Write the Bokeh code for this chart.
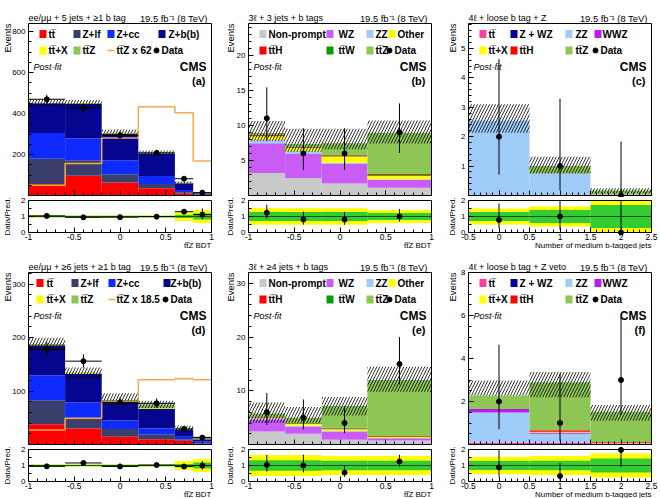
import numpy as np
from bokeh.plotting import figure
from bokeh.layouts import row, column
from bokeh.models import Label, FixedTicker, Range1d, CustomJSTickFormatter
from bokeh.embed import file_html
from bokeh.resources import INLINE

FONT = "Liberation Sans"
TT = "tt\u0305"          # t tbar
LEP = "\u2113"           # lepton symbol

# ---------------- colours ----------------
C_TT = "#ff0000"
C_ZLF = "#3b3f6b"
C_ZCC = "#0d2bff"
C_ZBB = "#05058f"
C_TTX = "#ffff00"
C_TTZ = "#8dc655"
C_ORANGE = "#f7a94f"
C_NP = "#c8c8c8"
C_WZ = "#c95cf7"
C_ZZ = "#9fcbf8"
C_OTHER = "#ffff00"
C_TTH = "#ff0000"
C_TTW = "#089a08"
C_TTPINK = "#ff3ea5"
C_ZWZ = "#000099"
C_WWZ = "#b81cf0"
C_BAND1 = "#33cc33"
C_BAND2 = "#ffff00"

# ---------------- (a) ee/mumu + 5 jets + >=1 b tag ----------------
a_edges = [-1.0, -0.6, -0.2, 0.2, 0.6, 0.8, 1.0]
a_ttbar = [56, 96, 64, 35, 11, 2]
a_zlf = [123, 76, 40, 21, 5, 1.5]
a_zcc = [126, 106, 68, 39, 11, 2.5]
a_zbb = [146, 170, 130, 110, 33, 5.5]
a_ttx = [0.8, 1.2, 1.5, 1.5, 0.8, 0.3]
a_ttz = [0.8, 2.5, 3.0, 3.5, 2.2, 0.7]
a_ttz_x62 = [50, 156, 281, 434, 404, 169]
a_band_lo = [437, 437, 290, 200, 58, 10.5]
a_band_hi = [469, 467, 322, 220, 68, 14.5]
a_data = [470, 428, 294, 208, 82, 14]
a_data_lo = [449, 407, 277, 194, 73, 10.3]
a_data_hi = [492, 449, 312, 223, 92, 18.8]
a_ratio_1s = [0.04, 0.04, 0.04, 0.04, 0.10, 0.18]
a_ratio_2s = [0.06, 0.06, 0.06, 0.06, 0.28, 0.40]

# ---------------- (b) 3l + 3 jets + b tags ----------------
b_edges = [-1.0, -0.6, -0.2, 0.3, 1.0]
b_nonprompt = [3.2, 2.5, 1.7, 1.1]
b_wz = [4.25, 3.4, 2.8, 1.15]
b_zz = [0.45, 0.4, 0.15, 0.05]
b_other = [0.55, 0.45, 0.9, 0.5]
b_tth = [0.12, 0.1, 0.15, 0.12]
b_ttw = [0.12, 0.1, 0.15, 0.13]
b_ttz = [0.2, 0.4, 1.6, 5.9]
b_band_lo = [7.8, 6.2, 6.6, 7.4]
b_band_hi = [10.6, 9.5, 9.5, 10.7]
b_data = [11, 6, 6, 9]
b_data_lo = [7.73, 3.62, 3.62, 6.06]
b_data_hi = [15.42, 9.58, 9.58, 13.11]
b_ratio_1s = [0.28, 0.28, 0.28, 0.22]
b_ratio_2s = [0.52, 0.52, 0.52, 0.40]

# ---------------- (c) 4l + loose b tag + Z ----------------
c_edges = [-0.5, 0.5, 1.5, 2.5]
c_ttbar = [0.0, 0.0, 0.0]
c_zwz = [0.0, 0.0, 0.0]
c_zz = [2.55, 0.75, 0.03]
c_wwz = [0.0, 0.0, 0.0]
c_ttx = [0.0, 0.0, 0.005]
c_tth = [0.0, 0.0, 0.005]
c_ttz = [0.0, 0.25, 0.13]
c_band_lo = [2.13, 0.75, 0.08]
c_band_hi = [3.1, 1.32, 0.25]
c_data = [2, 1, 0]
c_data_lo = [0.71, 0.17, 0.0]
c_data_hi = [4.64, 3.30, 1.84]
c_ratio_1s = [0.28, 0.40, 0.72]
c_ratio_2s = [0.50, 0.63, 1.10]

# ---------------- (d) ee/mumu + >=6 jets + >=1 b tag ----------------
d_edges = [-1.0, -0.6, -0.2, 0.2, 0.6, 0.8, 1.0]
d_ttbar = [37.7, 30, 14.5, 10, 7, 2]
d_zlf = [45.3, 19, 14.5, 9, 3, 1]
d_zcc = [46, 29.5, 16, 11, 4.5, 3]
d_zbb = [57, 53.5, 35, 37, 12.5, 4]
d_ttx = [0.5, 0.8, 1.0, 1.5, 0.7, 0.5]
d_ttz = [1.5, 2.0, 3.0, 6.5, 3.3, 2.5]
d_ttz_x18 = [27, 49, 80, 121, 123, 121]
d_band_lo = [176, 124, 74, 68, 27, 11]
d_band_hi = [200, 144, 96, 82, 35, 15]
d_data = [178, 156, 79, 77, 29, 13]
d_data_lo = [165, 144, 70.6, 68.6, 23.8, 9.5]
d_data_hi = [191.8, 169, 88.4, 86.4, 34.4, 16.6]
d_ratio_1s = [0.04, 0.04, 0.04, 0.04, 0.10, 0.18]
d_ratio_2s = [0.07, 0.07, 0.07, 0.07, 0.28, 0.40]

# ---------------- (e) 3l + >=4 jets + b tags ----------------
e_edges = [-1.0, -0.6, -0.2, 0.3, 1.0]
e_nonprompt = [2.43, 2.0, 0.87, 0.75]
e_wz = [2.24, 1.36, 1.56, 0.43]
e_zz = [0.2, 0.14, 0.07, 0.02]
e_other = [0.15, 0.3, 0.36, 0.2]
e_tth = [0.1, 0.1, 0.12, 0.14]
e_ttw = [0.1, 0.15, 0.12, 0.14]
e_ttz = [0.55, 0.95, 4.06, 10.3]
e_band_lo = [4.0, 4.0, 5.4, 9.8]
e_band_hi = [7.8, 7.0, 8.84, 14.45]
e_data = [6, 5, 4, 15]
e_data_lo = [3.62, 2.84, 2.09, 11.17]
e_data_hi = [9.58, 8.38, 7.16, 19.99]
e_ratio_1s = [0.33, 0.33, 0.30, 0.30]
e_ratio_2s = [0.66, 0.66, 0.60, 0.60]

# ---------------- (f) 4l + loose b tag + Z veto ----------------
f_edges = [-0.5, 0.5, 1.5, 2.5]
f_ttbar = [0.08, 0.08, 0.04]
f_zwz = [0.0, 0.0, 0.0]
f_zz = [1.41, 0.42, 0.01]
f_wwz = [0.16, 0.06, 0.01]
f_ttx = [0.0, 0.03, 0.02]
f_tth = [0.0, 0.07, 0.04]
f_ttz = [0.63, 2.24, 1.40]
f_band_lo = [2.28, 2.2, 1.1]
f_band_hi = [2.98, 3.37, 1.84]
f_data = [2, 1, 3]
f_data_lo = [0.71, 0.17, 1.37]
f_data_hi = [4.64, 3.30, 5.92]
f_ratio_1s = [0.28, 0.30, 0.44]
f_ratio_2s = [0.55, 0.60, 0.75]

# ---------------- geometry (pixels) ----------------
# Each figure's frame fills its whole canvas; the axes sit at fixed
# locations so the margins (titles, tick labels) are part of the frame.
W, ML, MR = 220, 28, 9
FW = W - ML - MR
MH, MT, MB = 197, 23, 2
FH = MH - MT - MB
RH, RT, RB = 52, 3, 17
RFH = RH - RT - RB

FMT = CustomJSTickFormatter(code="return String(tick)")
NO_LABELS = CustomJSTickFormatter(code="return ''")


def px2data(xr, yr, w, h, px, py):
    """Canvas pixel (from top-left) -> data coordinates."""
    return (xr[0] + px / w * (xr[1] - xr[0]),
            yr[1] - py / h * (yr[1] - yr[0]))


def put_text(fig, xr, yr, h, px, py, s, size, style="normal", align="left", angle=0.0):
    x, y = px2data(xr, yr, W, h, px, py)
    fig.add_layout(Label(x=x, y=y, text=s, text_font=FONT, text_font_size=f"{size}px",
                         text_font_style=style, text_align=align, text_baseline="middle",
                         angle=angle, text_color="black"))


def make_fig(xr, yr, h):
    f = figure(width=W, height=h, x_range=Range1d(*xr), y_range=Range1d(*yr),
               output_backend="svg", toolbar_location=None, title=None,
               min_border_left=0, min_border_right=0, min_border_top=0, min_border_bottom=0)
    f.outline_line_color = None
    f.xgrid.visible = False
    f.ygrid.visible = False
    return f


def style_axes(fig, x0, xticks, xminor, yticks, yminor, xlabels):
    fig.xaxis[0].fixed_location = 0
    fig.yaxis[0].fixed_location = x0
    for ax, ticks, minor in ((fig.xaxis[0], xticks, xminor), (fig.yaxis[0], yticks, yminor)):
        ax.ticker = FixedTicker(ticks=list(ticks), minor_ticks=list(minor))
        ax.formatter = FMT
        ax.major_tick_in = 5
        ax.major_tick_out = 0
        ax.minor_tick_in = 3
        ax.minor_tick_out = 0
        ax.axis_line_color = None
        ax.major_tick_line_color = "black"
        ax.minor_tick_line_color = "black"
        ax.major_label_text_font = FONT
        ax.major_label_text_color = "black"
    fig.yaxis[0].major_label_text_font_size = "8px"
    fig.yaxis[0].major_label_standoff = 3
    fig.xaxis[0].major_label_text_font_size = "8.5px"
    fig.xaxis[0].major_label_standoff = 1
    if not xlabels:
        fig.xaxis[0].formatter = NO_LABELS


def build_panel(header, tag, edges, stack, band_lo, band_hi, data, d_lo, d_hi,
                r1, r2, ymax, yticks, ystep, xticks, xlabel, legend, leg_box, leg_txt,
                leg_dot, xerr, title_dx, scaled=None):
    edges = np.asarray(edges, float)
    left, right = edges[:-1], edges[1:]
    cen = 0.5 * (left + right)
    x0, x1 = float(edges[0]), float(edges[-1])
    sx = (x1 - x0) / FW
    xr = (x0 - ML * sx, x1 + MR * sx)
    sy = ymax / FH
    yr = (-MB * sy, ymax + MT * sy)
    xminor = np.round(np.arange(x0, x1 + 1e-9, 0.1), 3)
    yminor = np.round(np.arange(0, ymax + 1e-9, ystep), 4)

    # ---------------- main distribution ----------------
    p = make_fig(xr, yr, MH)
    style_axes(p, x0, xticks, xminor, yticks, yminor, False)

    bottom = np.zeros(len(left))
    for vals, color in stack:
        top = bottom + np.asarray(vals, float)
        p.quad(left=left, right=right, bottom=bottom, top=top, fill_color=color, line_color=None)
        bottom = top
    total = bottom

    p.quad(left=left, right=right, bottom=band_lo, top=band_hi, fill_alpha=0, line_alpha=0,
           hatch_pattern="/", hatch_color="black", hatch_weight=0.8, hatch_scale=6)

    if scaled is not None:
        p.step(x=edges, y=list(scaled) + [scaled[-1]], mode="after", line_color=C_ORANGE, line_width=1.5)

    data = np.asarray(data, float)
    p.segment(x0=cen, y0=d_lo, x1=cen, y1=np.minimum(d_hi, ymax), line_color="black", line_width=1)
    if xerr:
        p.segment(x0=left, y0=data, x1=right, y1=data, line_color="black", line_width=1)
    p.scatter(cen, data, size=5, color="black")

    # frame box
    p.quad(left=[x0], right=[x1], bottom=[0], top=[ymax], fill_alpha=0, line_color="black", line_width=1)

    # texts
    put_text(p, xr, yr, MH, ML, MT - 5.5, header, 9)
    put_text(p, xr, yr, MH, ML + FW - 4, MT - 5.5, "19.5 fb\u207b\u00b9 (8 TeV)", 9.4, align="right")
    put_text(p, xr, yr, MH, ML + title_dx, MT, "Events", 9.5, align="right", angle=np.pi / 2)
    put_text(p, xr, yr, MH, ML + 5, MT + 43, "Post-fit", 9, style="italic")
    put_text(p, xr, yr, MH, ML + FW - 5, MT + 43, "CMS", 12, style="bold", align="right")
    put_text(p, xr, yr, MH, ML + FW - 6, MT + 57, tag, 11, style="bold", align="right")

    # legend
    rows_py = (MT + 10.5, MT + 27)
    for ri, entries in enumerate(legend):
        py = rows_py[ri]
        for c, (kind, lab, color) in enumerate(entries):
            if kind == "box":
                bx0, by0 = px2data(xr, yr, W, MH, ML + leg_box[c], py + 4)
                bx1, by1 = px2data(xr, yr, W, MH, ML + leg_box[c] + 7, py - 4)
                p.quad(left=[bx0], right=[bx1], bottom=[by0], top=[by1], fill_color=color, line_color=None)
                put_text(p, xr, yr, MH, ML + leg_txt[c], py, lab, 10, style="bold")
            elif kind == "line":
                bx0, by0 = px2data(xr, yr, W, MH, ML + leg_box[c], py)
                bx1, _ = px2data(xr, yr, W, MH, ML + leg_box[c] + 7, py)
                p.segment(x0=[bx0], y0=[by0], x1=[bx1], y1=[by0], line_color=color, line_width=1.5)
                put_text(p, xr, yr, MH, ML + leg_txt[c], py, lab, 10, style="bold")
            elif kind == "dot":
                bx0, by0 = px2data(xr, yr, W, MH, ML + leg_dot[0], py)
                p.scatter([bx0], [by0], size=5, color="black")
                put_text(p, xr, yr, MH, ML + leg_dot[1], py, lab, 10, style="bold")

    # ---------------- data / prediction ratio ----------------
    ry = 2.0 / RFH
    ryr = (-RB * ry, 2.0 + RT * ry)
    r = make_fig(xr, ryr, RH)
    style_axes(r, x0, xticks, xminor, [0, 1, 2], [0.5, 1.5], True)
    r2 = np.asarray(r2, float)
    r1 = np.asarray(r1, float)
    r.quad(left=left, right=right, bottom=np.clip(1 - r2, 0, 2), top=np.clip(1 + r2, 0, 2),
           fill_color=C_BAND2, line_color=None)
    r.quad(left=left, right=right, bottom=np.clip(1 - r1, 0, 2), top=np.clip(1 + r1, 0, 2),
           fill_color=C_BAND1, line_color=None)
    r.segment(x0=[x0], y0=[1], x1=[x1], y1=[1], line_color="#1f4f1f", line_width=1)
    ratio = data / total
    r.segment(x0=cen, y0=np.clip(np.asarray(d_lo) / total, 0, 2), x1=cen,
              y1=np.clip(np.asarray(d_hi) / total, 0, 2), line_color="black", line_width=1)
    if xerr:
        r.segment(x0=left, y0=ratio, x1=right, y1=ratio, line_color="black", line_width=1)
    r.scatter(cen, ratio, size=5, color="black")
    r.quad(left=[x0], right=[x1], bottom=[0], top=[2], fill_alpha=0, line_color="black", line_width=1)

    put_text(r, xr, ryr, RH, ML + title_dx, RT + RFH / 2, "Data/Pred.", 8, align="center", angle=np.pi / 2)
    put_text(r, xr, ryr, RH, ML + FW, RH - 4.2, xlabel, 8, align="right")

    return column(p, r)


BDT_TICKS = [-1, -0.5, 0, 0.5, 1]
NB_TICKS = [-0.5, 0, 0.5, 1, 1.5, 2, 2.5]

LEG_3L = [
    [("box", "Non-prompt", C_NP), ("box", "WZ", C_WZ), ("box", "ZZ", C_ZZ), ("box", "Other", C_OTHER)],
    [("box", TT + "H", C_TTH), ("box", TT + "W", C_TTW), ("box", TT + "Z", C_TTZ), ("dot", "Data", None)],
]
LEG_4L = [
    [("box", TT, C_TTPINK), ("box", "Z + WZ", C_ZWZ), ("box", "ZZ", C_ZZ), ("box", "WWZ", C_WWZ)],
    [("box", TT + "+X", C_TTX), ("box", TT + "H", C_TTH), ("box", TT + "Z", C_TTZ), ("dot", "Data", None)],
]


def zj_legend(scale_text):
    return [
        [("box", TT, C_TT), ("box", "Z+lf", C_ZLF), ("box", "Z+cc", C_ZCC), ("box", "Z+b(b)", C_ZBB)],
        [("box", TT + "+X", C_TTX), ("box", TT + "Z", C_TTZ),
         ("line", TT + "Z " + scale_text, C_ORANGE), ("dot", "Data", None)],
    ]


pa = build_panel("ee/\u03bc\u03bc + 5 jets + \u22651 b tag", "(a)", a_edges,
                 [(a_ttbar, C_TT), (a_zlf, C_ZLF), (a_zcc, C_ZCC), (a_zbb, C_ZBB), (a_ttx, C_TTX), (a_ttz, C_TTZ)],
                 a_band_lo, a_band_hi, a_data, a_data_lo, a_data_hi, a_ratio_1s, a_ratio_2s,
                 840, [200, 400, 600, 800], 50, BDT_TICKS, TT + "Z BDT",
                 zj_legend("x 62"), [11, 45, 79, 130], [20, 54, 88, 140], (128, 133), True, -21, a_ttz_x62)

pb = build_panel("3" + LEP + " + 3 jets + b tags", "(b)", b_edges,
                 [(b_nonprompt, C_NP), (b_wz, C_WZ), (b_zz, C_ZZ), (b_other, C_OTHER), (b_tth, C_TTH),
                  (b_ttw, C_TTW), (b_ttz, C_TTZ)],
                 b_band_lo, b_band_hi, b_data, b_data_lo, b_data_hi, b_ratio_1s, b_ratio_2s,
                 24.5, [5, 10, 15, 20], 1, BDT_TICKS, TT + "Z BDT",
                 LEG_3L, [11, 78, 118, 140], [20, 90, 127, 149], (141, 146), False, -18)

pc = build_panel("4" + LEP + " + loose b tag + Z", "(c)", c_edges,
                 [(c_ttbar, C_TTPINK), (c_zwz, C_ZWZ), (c_zz, C_ZZ), (c_wwz, C_WWZ), (c_ttx, C_TTX),
                  (c_tth, C_TTH), (c_ttz, C_TTZ)],
                 c_band_lo, c_band_hi, c_data, c_data_lo, c_data_hi, c_ratio_1s, c_ratio_2s,
                 5.85, [1, 2, 3, 4, 5], 0.2, NB_TICKS, "Number of medium b-tagged jets",
                 LEG_4L, [11, 42, 97, 126], [20, 51, 107, 134], (127, 132), False, -16)

pd_ = build_panel("ee/\u03bc\u03bc + \u22656 jets + \u22651 b tag", "(d)", d_edges,
                  [(d_ttbar, C_TT), (d_zlf, C_ZLF), (d_zcc, C_ZCC), (d_zbb, C_ZBB), (d_ttx, C_TTX), (d_ttz, C_TTZ)],
                  d_band_lo, d_band_hi, d_data, d_data_lo, d_data_hi, d_ratio_1s, d_ratio_2s,
                  322, [100, 200, 300], 20, BDT_TICKS, TT + "Z BDT",
                  zj_legend("x 18.5"), [8, 43, 80, 135], [18, 52, 88, 142], (137, 142), True, -21, d_ttz_x18)

pe = build_panel("3" + LEP + " + \u22654 jets + b tags", "(e)", e_edges,
                 [(e_nonprompt, C_NP), (e_wz, C_WZ), (e_zz, C_ZZ), (e_other, C_OTHER), (e_tth, C_TTH),
                  (e_ttw, C_TTW), (e_ttz, C_TTZ)],
                 e_band_lo, e_band_hi, e_data, e_data_lo, e_data_hi, e_ratio_1s, e_ratio_2s,
                 32, [10, 20, 30], 2, BDT_TICKS, TT + "Z BDT",
                 LEG_3L, [11, 78, 118, 140], [20, 90, 127, 149], (141, 146), False, -18)

pf = build_panel("4" + LEP + " + loose b tag + Z veto", "(f)", f_edges,
                 [(f_ttbar, C_TTPINK), (f_zwz, C_ZWZ), (f_zz, C_ZZ), (f_wwz, C_WWZ), (f_ttx, C_TTX),
                  (f_tth, C_TTH), (f_ttz, C_TTZ)],
                 f_band_lo, f_band_hi, f_data, f_data_lo, f_data_hi, f_ratio_1s, f_ratio_2s,
                 8, [2, 4, 6, 8], 0.5, NB_TICKS, "Number of medium b-tagged jets",
                 LEG_4L, [11, 42, 97, 126], [20, 51, 107, 134], (127, 132), False, -16)

layout = column(row(pa, pb, pc), row(pd_, pe, pf))
open("out.html", "w").write(file_html(layout, INLINE))
